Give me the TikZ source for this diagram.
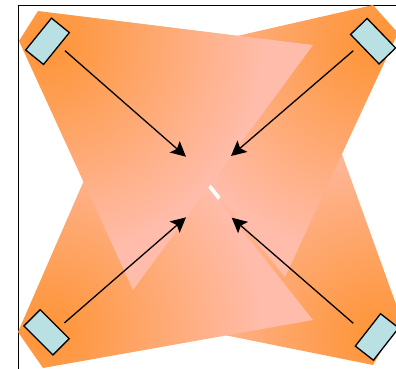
\documentclass[tikz,border=0pt]{standalone}
\usetikzlibrary{arrows.meta}
\definecolor{lorange}{RGB}{254,150,60}
\definecolor{lpink}{RGB}{255,188,170}
\definecolor{lampfill}{RGB}{185,224,227}
\pgfdeclareradialshading{conesh}{\pgfpoint{0bp}{0bp}}{color(0bp)=(lorange); color(15bp)=(lorange); color(215bp)=(lpink); color(400bp)=(lpink)}
\newcommand\lampcone[5]{%
  \begin{scope}
    \clip #2 -- #3 -- #4 -- #5 -- cycle;
    \node[inner sep=0pt, outer sep=0pt] at #1 {\pgfuseshading{conesh}};
  \end{scope}}
\begin{document}
\begin{tikzpicture}[x=1pt,y=-1pt,
  lamp/.style={draw=black, line width=1.3pt, fill=lampfill, minimum width=23pt, minimum height=41pt, inner sep=0pt, outer sep=0pt},
  beam/.style={draw=black, line width=1.3pt, -{Stealth[length=15pt,width=15pt,inset=3pt]}},
  frameline/.style={draw=black, line width=1.3pt}]
\useasboundingbox (0,0) rectangle (396,369);
\draw[frameline] (18.7,380) -- (18.7,5.3) -- (410,5.3);
% cones
\lampcone{(377,337)}{(401,318)}{(317,85)}{(120,314)}{(373,365)}
\lampcone{(373,41)}{(373,5)}{(114,64)}{(285,277)}{(398,33)}
\lampcone{(46.6,332.3)}{(18,332)}{(126,84)}{(313,320)}{(43,368)}
\lampcone{(47.5,41.3)}{(38,11)}{(313,45)}{(133,290)}{(19,41)}
\draw[white, line width=0.5pt] (209.3,187.3) -- (216,195.3);
% lamps
\node[lamp, rotate=-39] (ltl) at (47.5,41.3) {};
\node[lamp, rotate=44] (ltr) at (373.1,41.2) {};
\node[lamp, rotate=45] (lbl) at (46.6,332.3) {};
\node[lamp, rotate=-38] (lbr) at (377,337) {};
% arrows
\coordinate (s1) at (65,50.7);   \coordinate (e1) at (186,156.7);
\coordinate (s2) at (353.3,50.7); \coordinate (e2) at (231,156);
\coordinate (s3) at (64.3,323);  \coordinate (e3) at (186,217.3);
\coordinate (s4) at (353.3,323.3); \coordinate (e4) at (231.7,217.7);
\draw[beam] (s1) -- (e1);
\draw[beam] (s2) -- (e2);
\draw[beam] (s3) -- (e3);
\draw[beam] (s4) -- (e4);
\end{tikzpicture}
\end{document}
